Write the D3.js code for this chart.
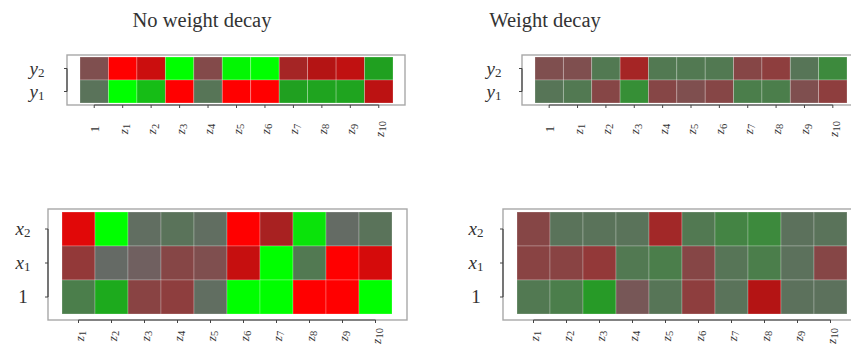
<!DOCTYPE html>
<html>
<head>
<meta charset="utf-8">
<script src="https://cdn.jsdelivr.net/npm/d3@7"></script>
<style>
  html, body { margin: 0; padding: 0; background: #fff; }
  svg { display: block; }
  text { font-family: "Liberation Serif", "DejaVu Serif", serif; fill: #333; }
</style>
</head>
<body>
<svg id="chart" width="851" height="356"></svg>
<script>
// Column and row names of the weight matrices
const outputColumns = ["1", "z1", "z2", "z3", "z4", "z5", "z6", "z7", "z8", "z9", "z10"];
const outputRows = ["y2", "y1"];
const hiddenColumns = ["z1", "z2", "z3", "z4", "z5", "z6", "z7", "z8", "z9", "z10"];
const hiddenRows = ["x2", "x1", "1"];

const panelTitles = ["No weight decay", "Weight decay"];

// Output-layer weights (rows y2, y1), scaled to [-1, 1]
const noDecayY2 = [-0.15, -1.0, -0.65, 1.0, -0.18, 0.95, 1.0, -0.4, -0.5, -0.58, 0.5];
const noDecayY1 = [0.1, 1.0, 0.65, -1.0, 0.12, -1.0, -1.0, 0.5, 0.52, 0.52, -0.55];
const decayY2 = [-0.15, -0.15, 0.15, -0.4, 0.15, 0.15, 0.15, -0.2, -0.25, 0.12, 0.3];
const decayY1 = [0.12, 0.15, -0.2, 0.35, -0.2, -0.15, -0.2, 0.2, 0.2, -0.15, -0.25];

// Hidden-layer weights (rows x2, x1, bias), scaled to [-1, 1]
const noDecayX2 = [-0.8, 1.0, 0.05, 0.1, 0.05, -1.0, -0.42, 0.85, 0.03, 0.1];
const noDecayX1 = [-0.28, 0.02, -0.05, -0.2, -0.15, -0.62, 1.0, 0.15, -1.0, -0.72];
const noDecayBias = [0.2, 0.55, -0.22, -0.25, 0.05, 1.0, 1.0, -1.0, -1.0, 1.0];
const decayX2 = [-0.2, 0.1, 0.1, 0.1, -0.38, 0.15, 0.25, 0.3, 0.08, 0.1];
const decayX1 = [-0.22, -0.22, -0.28, 0.15, 0.2, -0.2, 0.12, 0.2, 0.08, -0.2];
const decayBias = [0.15, 0.2, 0.45, -0.1, 0.12, -0.25, 0.1, -0.5, 0.08, 0.08];

const color = d3.scaleLinear()
  .domain([-1, -0.5, 0, 0.5, 1])
  .range(["#ff0000", "#b41414", "#686868", "#20a020", "#00ff00"])
  .interpolate(d3.interpolateRgb)
  .clamp(true);

const svg = d3.select("#chart");

// Writes a name such as "z10" as italic letter + subscript, "1" upright
function writeName(text, name, subSize) {
  const m = name.match(/^([a-z])(\d+)$/);
  if (m) {
    text.append("tspan").attr("font-style", "italic").text(m[1]);
    text.append("tspan").attr("font-size", subSize).attr("dy", "0.32em").text(m[2]);
  } else {
    text.text(name);
  }
}

function drawPanel(p) {
  const g = svg.append("g");
  const x = d3.scaleBand().domain(p.columns).range([p.cells[0], p.cells[1]]);
  const y = d3.scaleBand().domain(p.rows).range([p.cells[2], p.cells[3]]);

  const cells = p.rows.flatMap((r, i) =>
    p.columns.map((c, j) => ({ row: r, col: c, value: p.values[i][j] })));

  g.selectAll("rect.cell").data(cells).join("rect")
    .attr("class", "cell")
    .attr("x", d => x(d.col))
    .attr("y", d => y(d.row))
    .attr("width", x.bandwidth())
    .attr("height", y.bandwidth())
    .attr("fill", d => color(d.value))
    .attr("stroke", "rgba(255,255,255,0.3)")
    .attr("stroke-width", 0.8);

  // plot frame
  g.append("rect")
    .attr("x", p.frame[0]).attr("y", p.frame[2])
    .attr("width", p.frame[1] - p.frame[0])
    .attr("height", p.frame[3] - p.frame[2])
    .attr("fill", "none")
    .attr("stroke", "#a8a8a8")
    .attr("stroke-width", 1.4);

  // bottom axis
  const xc = p.columns.map(c => x(c) + x.bandwidth() / 2);
  const xAxis = g.append("g")
    .attr("transform", `translate(0,${p.frame[3]})`)
    .call(d3.axisBottom(x).tickSize(3).tickSizeOuter(0).tickFormat(""));
  xAxis.select(".domain").attr("d", `M${xc[0]},0H${xc[xc.length - 1]}`)
    .attr("stroke", "#444").attr("stroke-width", 1.2);
  xAxis.selectAll(".tick line").attr("stroke", "#444");
  xAxis.selectAll(".tick").append("text")
    .attr("transform", `translate(0,${p.xLabelY - p.frame[3]}) rotate(-90)`)
    .attr("text-anchor", "middle")
    .attr("dominant-baseline", "central")
    .attr("font-size", 13.5)
    .each(function (d) { writeName(d3.select(this), d, 10.5); });

  // left axis
  const yc = p.rows.map(r => y(r) + y.bandwidth() / 2);
  const yAxis = g.append("g")
    .attr("transform", `translate(${p.frame[0]},0)`)
    .call(d3.axisLeft(y).tickSize(3).tickSizeOuter(0).tickFormat(""));
  yAxis.select(".domain").attr("d", `M0,${yc[0]}V${yc[yc.length - 1]}`)
    .attr("stroke", "#444").attr("stroke-width", 1.2);
  yAxis.selectAll(".tick line").attr("stroke", "#444");
  yAxis.selectAll(".tick").append("text")
    .attr("x", p.yLabelX - p.frame[0])
    .attr("y", -1)
    .attr("text-anchor", "middle")
    .attr("dominant-baseline", "central")
    .attr("font-size", 19)
    .each(function (d) { writeName(d3.select(this), d, 13); });
}

// titles
svg.append("text").attr("x", 202).attr("y", 27).attr("text-anchor", "middle")
  .attr("font-size", 20.5).text(panelTitles[0]);
svg.append("text").attr("x", 545).attr("y", 27).attr("text-anchor", "middle")
  .attr("font-size", 20.5).text(panelTitles[1]);

drawPanel({
  columns: outputColumns, rows: outputRows, values: [noDecayY2, noDecayY1],
  frame: [67, 405, 55, 105], cells: [80, 393, 57, 103], yLabelX: 37, xLabelY: 129
});
drawPanel({
  columns: outputColumns, rows: outputRows, values: [decayY2, decayY1],
  frame: [522, 860, 55, 105], cells: [535, 847, 57, 103], yLabelX: 494, xLabelY: 129
});
drawPanel({
  columns: hiddenColumns, rows: hiddenRows, values: [noDecayX2, noDecayX1, noDecayBias],
  frame: [48, 407, 209, 320], cells: [62, 392, 212, 314], yLabelX: 23, xLabelY: 336
});
drawPanel({
  columns: hiddenColumns, rows: hiddenRows, values: [decayX2, decayX1, decayBias],
  frame: [503, 862, 209, 320], cells: [517, 847, 212, 314], yLabelX: 476, xLabelY: 336
});
</script>
</body>
</html>
